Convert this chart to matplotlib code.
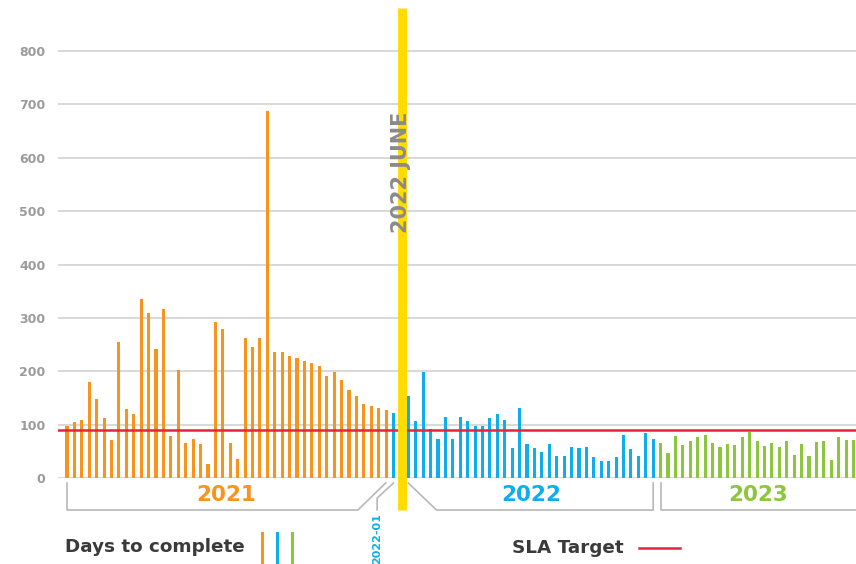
import numpy as np
import matplotlib
matplotlib.use("Agg")
import matplotlib.pyplot as plt
from matplotlib.lines import Line2D

# ---- data ----
days_2021 = [97, 104, 108, 180, 148, 113, 71, 255, 129, 120,
             335, 310, 241, 316, 79, 203, 65, 73, 63, 27,
             292, 280, 65, 35, 262, 245, 263, 688, 237, 237,
             228, 225, 220, 215, 210, 192, 198, 183, 164, 154,
             138, 135, 131, 127]
days_2022 = [122, 110, 154, 106, 198, 91, 74, 114, 74, 114,
             106, 97, 97, 112, 119, 108, 56, 132, 63, 57,
             49, 64, 42, 42, 59, 57, 58, 40, 32, 31,
             39, 81, 54, 42, 84, 73]
days_2023 = [65, 47, 79, 61, 69, 76, 80, 65, 59, 63,
             61, 76, 87, 69, 60, 65, 59, 70, 43, 64,
             41, 67, 69, 33, 76, 72, 72]
sla_target = 90
y_ticks = [0, 100, 200, 300, 400, 500, 600, 700, 800]
year_labels = ["2021", "2022", "2023"]
june_label = "2022 JUNE"
jan_label = "2022-01"
june_slot = 1      # position inside 2022 series hidden by the marker
jan_slot = 0

# ---- style ----
ORANGE = "#F7941D"
BLUE = "#0FAEEA"
GREEN = "#8CC63F"
YELLOW = "#FFDC00"
RED = "#E6223C"
GRID = "#D6D6D6"
BRACKET = "#B8B8B8"
TICK_GRAY = "#9B9B9B"
DARK = "#3A3A3A"

plt.rcParams['font.family'] = ['DejaVu Sans']

W, H = 856, 564
fig = plt.figure(figsize=(W / 100, H / 100), dpi=100)
ax = fig.add_axes([58 / W, 86 / H, 798 / W, 470 / H])

values = days_2021 + days_2022 + days_2023
colors = ([ORANGE] * len(days_2021) + [BLUE] * len(days_2022)
          + [GREEN] * len(days_2023))
x = np.arange(len(values))
n21, n22 = len(days_2021), len(days_2022)

step = 7.42  # px per bar slot
ax.set_xlim(-9 / step, 798 / step - 9 / step)
ax.set_ylim(0, 470 / 0.53375)

for v in y_ticks:
    ax.axhline(v, color=GRID, lw=1.3, zorder=0)

ax.bar(x, values, width=0.42, color=colors, zorder=2)
ax.axhline(sla_target, color=RED, lw=1.8, zorder=3)

# June 2022 marker
june_x = n21 + june_slot
ax.axvline(june_x + 0.1, ymin=-32 / 470, ymax=1, color=YELLOW, lw=6.4,
           solid_capstyle='butt', zorder=4, clip_on=False)
ax.text(june_x, 573, june_label, rotation=90, ha='center', va='center',
        fontsize=15, fontweight='bold', color='#8A8A8A', zorder=5)

# axis styling
for s in ax.spines.values():
    s.set_visible(False)
ax.set_xticks([])
ax.set_yticks(y_ticks)
ax.tick_params(axis='y', length=0, pad=9, labelsize=9, labelcolor=TICK_GRAY)
for lab in ax.get_yticklabels():
    lab.set_fontweight('bold')

# year brackets below the axis
y_top, y_mid, y_bot = -9.4, -37.5, -60
kw = dict(color=BRACKET, lw=1.2, clip_on=False, zorder=1)
ax.plot([0, 0, n21 - 4.8, n21 - 1.05], [y_top, y_bot, y_bot, y_top], **kw)
jan_x = n21 - 2.2
ax.plot([jan_x, jan_x, n21 + jan_slot], [y_bot, y_mid, y_top], **kw)
b22 = (n21 + 2, n21 + n22 - 1)
ax.plot([b22[0], b22[0] + 3.8, b22[1], b22[1]], [y_top, y_bot, y_bot, y_top], **kw)
b23 = (n21 + n22, ax.get_xlim()[1])
ax.plot([b23[0], b23[0], b23[1]], [y_top, y_bot, y_bot], **kw)

mids = [(0 + n21 - 1) / 2, sum(b22) / 2, sum(b23) / 2]
for m, lab, c in zip(mids, year_labels, [ORANGE, BLUE, GREEN]):
    ax.text(m, -32, lab, ha='center', va='center', fontsize=15.5,
            fontweight='bold', color=c, clip_on=False)

ax.text(jan_x, -65, jan_label, rotation=90, ha='center', va='top',
        fontsize=8, fontweight='bold', color=BLUE, clip_on=False)

# legend
fig.text(65 / W, 1 - 547 / H, "Days to complete", ha='left', va='center',
         fontsize=13.2, fontweight='bold', color=DARK)
for px, c in zip([262, 277, 291.5], [ORANGE, BLUE, GREEN]):
    fig.add_artist(Line2D([px / W, px / W], [1 - 533 / H, 0], color=c, lw=2.2))
fig.text(512 / W, 1 - 548 / H, "SLA Target", ha='left', va='center',
         fontsize=13.2, fontweight='bold', color=DARK)
fig.add_artist(Line2D([639 / W, 680 / W], [1 - 548 / H] * 2, color=RED, lw=1.8))

fig.savefig("out.png", dpi=100)
